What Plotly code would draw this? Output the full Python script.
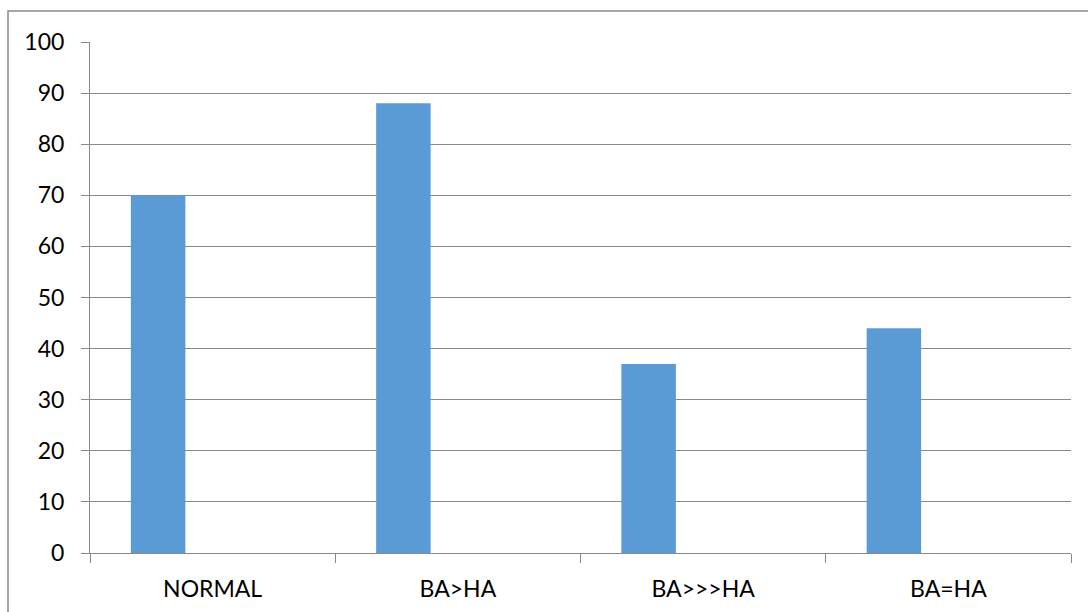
import plotly.graph_objects as go

categories = ["NORMAL", "BA>HA", "BA>>>HA", "BA=HA"]
values = [70, 88, 37, 44]
y_ticks = [0, 10, 20, 30, 40, 50, 60, 70, 80, 90, 100]

GRAY = "#898989"
FONT = "Lato"

fig = go.Figure()
fig.add_trace(go.Bar(
    x=categories, y=values,
    width=1 / 4.5, offset=-0.5 + 0.75 / 4.5,
    marker=dict(color="#5B9BD5", line=dict(width=0)),
    showlegend=False,
))

fig.update_layout(
    width=1088, height=612,
    margin=dict(l=90, r=17, t=42, b=59),
    paper_bgcolor="white", plot_bgcolor="white",
    font=dict(family=FONT, size=23, color="#000000"),
    xaxis=dict(
        type="category", range=[-0.5, 3.5], automargin=False,
        showline=True, linecolor=GRAY, linewidth=1,
        ticks="outside", ticklen=9, tickcolor=GRAY, tickwidth=1,
        tickson="boundaries", showgrid=False,
        ticklabelstandoff=15,
    ),
    yaxis=dict(
        range=[0, 100], tickvals=y_ticks, automargin=False,
        showline=True, linecolor=GRAY, linewidth=1,
        ticks="outside", ticklen=8, tickcolor=GRAY, tickwidth=1,
        showgrid=True, gridcolor=GRAY, gridwidth=1,
        zeroline=False, ticklabelstandoff=12,
    ),
    shapes=[dict(
        type="rect", xref="paper", yref="paper",
        x0=(8 - 90) / 981, x1=1.2, y0=-0.3, y1=(553 - 11) / 511,
        line=dict(color=GRAY, width=1.5), fillcolor="rgba(0,0,0,0)",
        layer="below",
    )],
)

fig.write_html("out.html")
